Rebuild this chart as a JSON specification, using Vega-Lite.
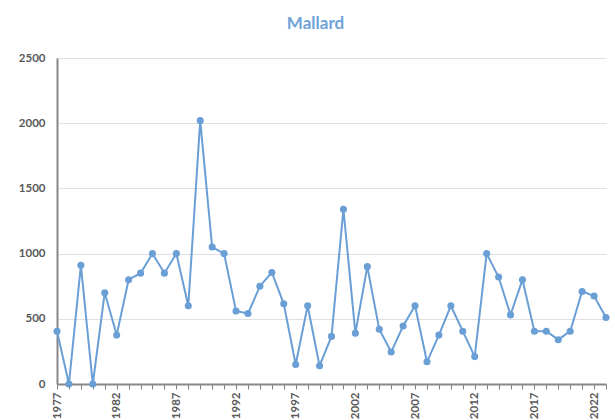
{
  "$schema": "https://vega.github.io/schema/vega-lite/v6.json",
  "autosize": "none",
  "width": 549,
  "height": 326,
  "padding": {"left": 57, "top": 58, "right": 9, "bottom": 36},
  "background": "white",
  "title": {"text": "Mallard", "font": "Lato", "fontSize": 17, "fontWeight": "bold", "color": "#6fa3d8", "offset": 19, "dx": -16},
  "config": {"view": {"stroke": null}},
  "data": {"values": [
    {"year": 1977, "count": 405},
    {"year": 1978, "count": 0},
    {"year": 1979, "count": 910},
    {"year": 1980, "count": 0},
    {"year": 1981, "count": 700},
    {"year": 1982, "count": 375},
    {"year": 1983, "count": 800},
    {"year": 1984, "count": 850},
    {"year": 1985, "count": 1000},
    {"year": 1986, "count": 850},
    {"year": 1987, "count": 1000},
    {"year": 1988, "count": 600},
    {"year": 1989, "count": 2020},
    {"year": 1990, "count": 1050},
    {"year": 1991, "count": 1000},
    {"year": 1992, "count": 560},
    {"year": 1993, "count": 540},
    {"year": 1994, "count": 750},
    {"year": 1995, "count": 855},
    {"year": 1996, "count": 615},
    {"year": 1997, "count": 150},
    {"year": 1998, "count": 600},
    {"year": 1999, "count": 140},
    {"year": 2000, "count": 365},
    {"year": 2001, "count": 1340},
    {"year": 2002, "count": 390},
    {"year": 2003, "count": 900},
    {"year": 2004, "count": 420},
    {"year": 2005, "count": 245},
    {"year": 2006, "count": 445},
    {"year": 2007, "count": 600},
    {"year": 2008, "count": 170},
    {"year": 2009, "count": 375},
    {"year": 2010, "count": 600},
    {"year": 2011, "count": 405},
    {"year": 2012, "count": 210},
    {"year": 2013, "count": 1000},
    {"year": 2014, "count": 820},
    {"year": 2015, "count": 530},
    {"year": 2016, "count": 800},
    {"year": 2017, "count": 405},
    {"year": 2018, "count": 405},
    {"year": 2019, "count": 340},
    {"year": 2020, "count": 405},
    {"year": 2021, "count": 710},
    {"year": 2022, "count": 675},
    {"year": 2023, "count": 510}
  ]},
  "mark": {"type": "line", "color": "#6a9fd6", "strokeWidth": 2, "point": {"filled": true, "size": 50, "color": "#6a9fd6", "opacity": 1}},
  "encoding": {
    "x": {
      "field": "year", "type": "quantitative",
      "scale": {"domain": [1977, 2023], "nice": false, "zero": false},
      "axis": {
        "title": null, "grid": false,
        "values": [1977,1978,1979,1980,1981,1982,1983,1984,1985,1986,1987,1988,1989,1990,1991,1992,1993,1994,1995,1996,1997,1998,1999,2000,2001,2002,2003,2004,2005,2006,2007,2008,2009,2010,2011,2012,2013,2014,2015,2016,2017,2018,2019,2020,2021,2022,2023],
        "labelExpr": "(datum.value - 1977) % 5 == 0 ? datum.value : ''",
        "format": "d",
        "labelAngle": -90, "labelAlign": "right", "labelBaseline": "middle",
        "labelFont": "Lato", "labelFontSize": 11.5, "labelFontWeight": "bold", "labelColor": "#595959",
        "labelPadding": 3, "labelOverlap": false, "labelBound": false, "labelFlush": false,
        "tickSize": 5, "tickColor": "#808080", "tickWidth": 1,
        "domainColor": "#888888", "domainWidth": 2
      }
    },
    "y": {
      "field": "count", "type": "quantitative",
      "scale": {"domain": [0, 2500], "nice": false},
      "axis": {
        "title": null, "values": [0, 500, 1000, 1500, 2000, 2500], "format": "d",
        "ticks": false, "labelPadding": 12,
        "labelFont": "Lato", "labelFontSize": 11.5, "labelFontWeight": "bold", "labelColor": "#595959",
        "gridColor": "#e0e0e0", "gridWidth": 1,
        "domainColor": "#888888", "domainWidth": 2
      }
    }
  }
}
